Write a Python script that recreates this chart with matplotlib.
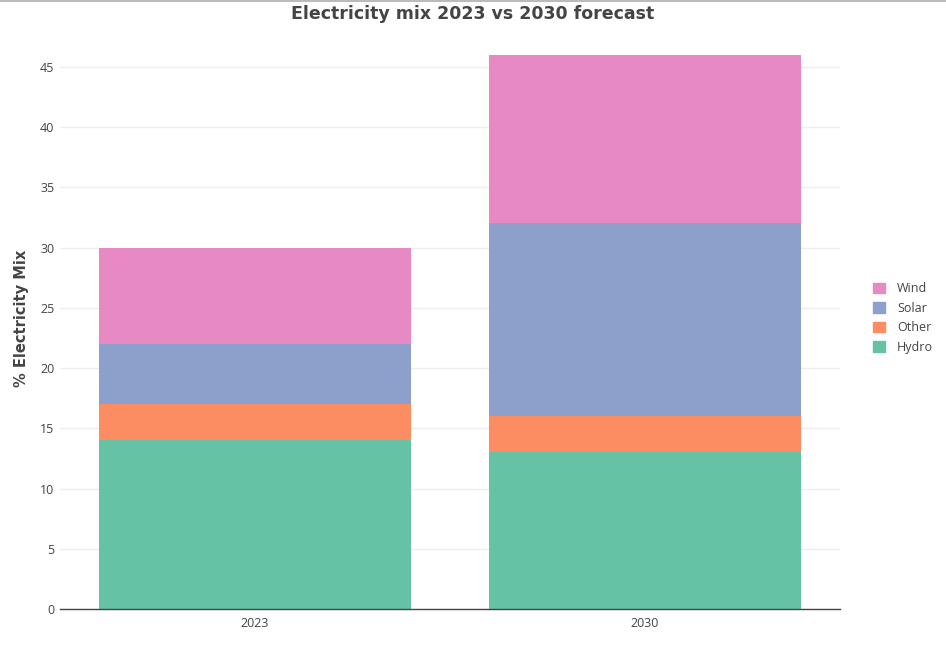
import numpy as np
import matplotlib.pyplot as plt
from matplotlib.lines import Line2D
from matplotlib.patches import Patch

plt.rcParams['font.family'] = ['Open Sans', 'DejaVu Sans']

years = ['2023', '2030']
sources = ['Hydro', 'Other', 'Solar', 'Wind']
hydro = [14, 13]
other = [3, 3]
solar = [5, 16]
wind = [8, 14]
colors = ['#66c2a5', '#fc8d62', '#8da0cb', '#e78ac3']

W, H = 946, 647
fig = plt.figure(figsize=(W / 100, H / 100), dpi=100)
ax = fig.add_axes([60 / W, 38 / H, 780 / W, 582 / H])

x = np.arange(len(years))
bottom = np.zeros(len(years))
for name, vals, col in zip(sources, [hydro, other, solar, wind], colors):
    ax.bar(x, vals, width=0.8, bottom=bottom, color=col, label=name, zorder=2)
    bottom += np.array(vals)

ax.set_xlim(-0.5, 1.5)
ax.set_ylim(0, bottom.max() * 1.05)
ax.set_xticks(x)
ax.set_xticklabels(years)
ax.set_yticks(np.arange(0, 50, 5))
ax.grid(axis='y', color='#eeeeee', linewidth=1, zorder=0)
for s in ['top', 'right', 'left']:
    ax.spines[s].set_visible(False)
ax.spines['bottom'].set_color('#444444')
ax.spines['bottom'].set_linewidth(1)
ax.tick_params(axis='both', length=0, labelsize=9, colors='#444444', pad=6)
ax.tick_params(axis='y', pad=4)

ax.set_ylabel('% Electricity Mix', fontsize=10.5, fontweight='bold', color='#444444', labelpad=8,
              family='DejaVu Sans')
fig.text(0.5, 1 - 14 / H, 'Electricity mix 2023 vs 2030 forecast', ha='center', va='center',
         fontsize=12.5, fontweight='bold', color='#444444', family='DejaVu Sans')

handles = [Patch(facecolor=c, edgecolor=c) for c in colors[::-1]]
leg = fig.legend(handles, sources[::-1], loc='center left', bbox_to_anchor=(862 / W, 1 - 318 / H),
                 frameon=False, fontsize=9, handlelength=0.9, handleheight=0.9,
                 labelspacing=0.52, handletextpad=1.0)
for t in leg.get_texts():
    t.set_color('#444444')

fig.add_artist(Line2D([0, 1], [1 - 0.5 / H, 1 - 0.5 / H], color='#bbbbbb', linewidth=1.5,
                      transform=fig.transFigure))

fig.savefig('out.png', dpi=100)
